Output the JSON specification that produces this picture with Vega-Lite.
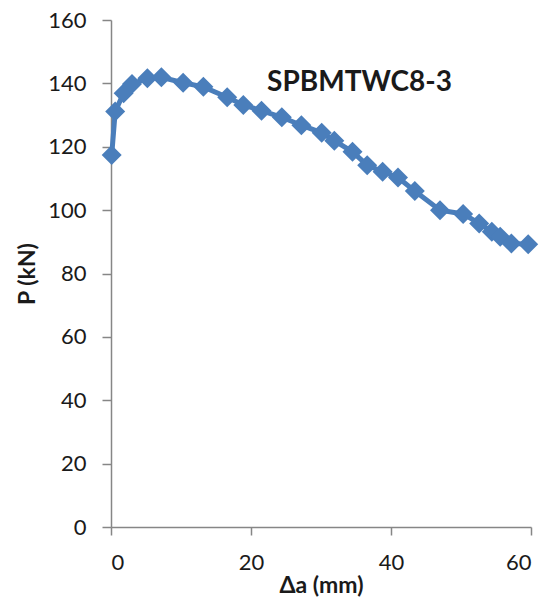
{
  "$schema": "https://vega.github.io/schema/vega-lite/v6.json",
  "width": 420,
  "height": 507,
  "autosize": "none",
  "padding": {"left": 111, "top": 20, "right": 15, "bottom": 75},
  "background": "white",
  "config": {
    "view": {"stroke": null},
    "font": "Lato",
    "axis": {
      "grid": false,
      "domainColor": "#868686",
      "domainWidth": 1.5,
      "tickColor": "#868686",
      "tickWidth": 1.5,
      "labelFont": "Lato",
      "labelFontSize": 22,
      "labelColor": "#1a1a1a",
      "titleFont": "Lato",
      "titleFontSize": 23,
      "titleFontWeight": "bold",
      "titleColor": "#1a1a1a"
    }
  },
  "datasets": {
    "curve": [
      {"da": 0.1, "P": 117.4},
      {"da": 0.6, "P": 131.1},
      {"da": 1.8, "P": 136.9},
      {"da": 3.0, "P": 139.8},
      {"da": 5.2, "P": 141.6},
      {"da": 7.2, "P": 141.9},
      {"da": 10.3, "P": 140.2},
      {"da": 13.2, "P": 138.9},
      {"da": 16.6, "P": 135.6},
      {"da": 18.9, "P": 133.2},
      {"da": 21.5, "P": 131.4},
      {"da": 24.4, "P": 129.3},
      {"da": 27.2, "P": 126.8},
      {"da": 30.1, "P": 124.4},
      {"da": 31.9, "P": 121.9},
      {"da": 34.5, "P": 118.4},
      {"da": 36.6, "P": 114.2},
      {"da": 38.8, "P": 112.1},
      {"da": 41.0, "P": 110.3},
      {"da": 43.4, "P": 106.0},
      {"da": 47.0, "P": 100.0},
      {"da": 50.3, "P": 98.8},
      {"da": 52.6, "P": 95.8},
      {"da": 54.4, "P": 93.2},
      {"da": 55.6, "P": 91.6},
      {"da": 57.2, "P": 89.5},
      {"da": 59.6, "P": 89.2}
    ],
    "label": [
      {"da": 22.3, "P": 140.2, "text": "SPBMTWC8-3"}
    ]
  },
  "layer": [
    {
      "data": {"name": "curve"},
      "mark": {"type": "line", "color": "#4A7EBB", "strokeWidth": 5, "point": {"shape": "diamond", "size": 400, "filled": true, "color": "#4A7EBB", "opacity": 1}},
      "encoding": {
        "x": {
          "field": "da", "type": "quantitative",
          "scale": {"domain": [0, 60], "nice": false, "zero": false},
          "axis": {"values": [0, 20, 40, 60], "title": "Δa (mm)", "tickSize": 8, "labelPadding": 17, "titlePadding": 1}
        },
        "y": {
          "field": "P", "type": "quantitative",
          "scale": {"domain": [0, 160], "nice": false},
          "axis": {"values": [0, 20, 40, 60, 80, 100, 120, 140, 160], "title": "P (kN)", "tickSize": 9, "labelPadding": 16, "titlePadding": 8}
        }
      }
    },
    {
      "data": {"name": "label"},
      "mark": {"type": "text", "align": "left", "baseline": "middle", "font": "Lato", "fontSize": 28, "fontWeight": "bold", "color": "#1a1a1a"},
      "encoding": {
        "x": {"field": "da", "type": "quantitative"},
        "y": {"field": "P", "type": "quantitative"},
        "text": {"field": "text"}
      }
    }
  ]
}
